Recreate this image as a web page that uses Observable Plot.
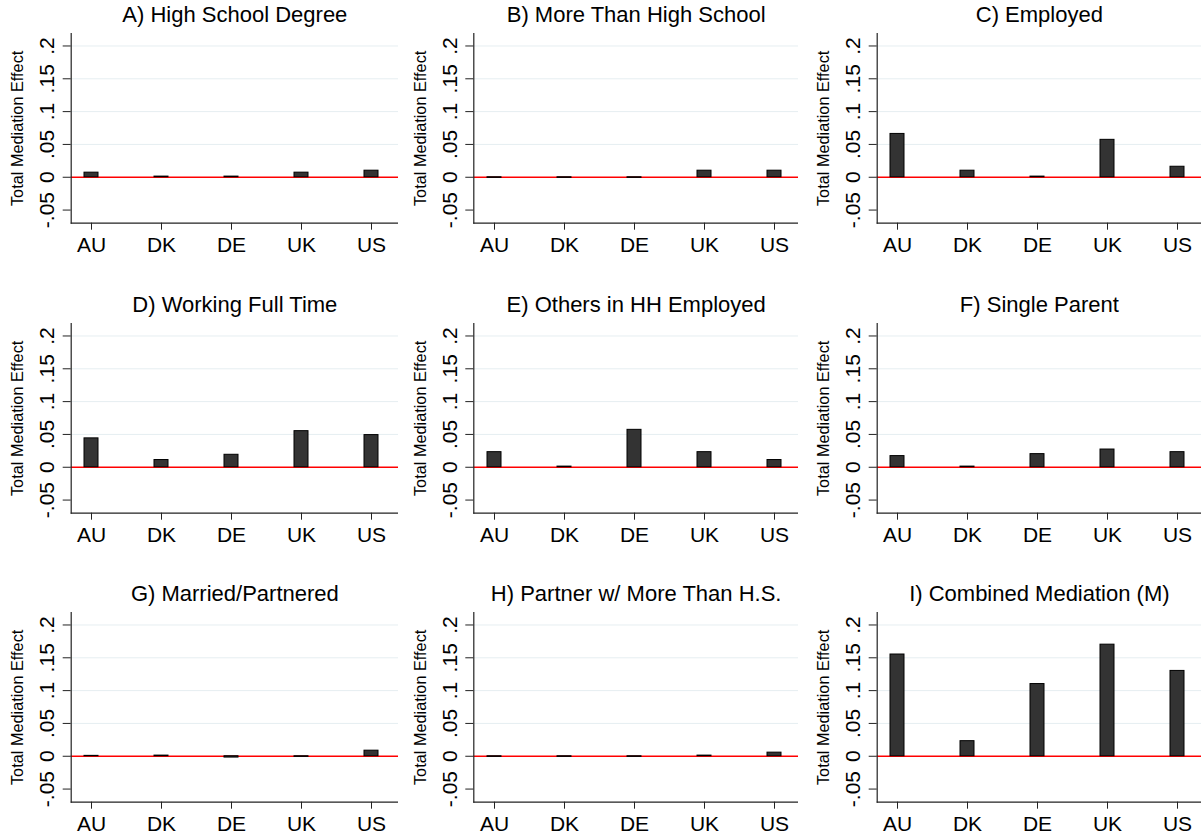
<!DOCTYPE html>
<html><head><meta charset="utf-8">
<script src="https://cdn.jsdelivr.net/npm/d3@7"></script>
<script src="https://cdn.jsdelivr.net/npm/@observablehq/plot@0.6"></script>
<style>
html,body{margin:0;padding:0;background:#fff;}
#grid{position:relative;width:1203px;height:837px;overflow:hidden;font-family:"Liberation Sans",Arial,sans-serif;}
.panel{position:absolute;}
</style></head><body><div id="grid"></div>
<script>
const countries = ["AU","DK","DE","UK","US"];
const panelTitles = ["A) High School Degree","B) More Than High School","C) Employed","D) Working Full Time","E) Others in HH Employed","F) Single Parent","G) Married/Partnered","H) Partner w/ More Than H.S.","I) Combined Mediation (M)"];
const highSchool     = [0.007, 0.001, 0.001, 0.007, 0.010];
const moreThanHS     = [-0.001, -0.001, -0.001, 0.010, 0.010];
const employed       = [0.066, 0.010, 0.001, 0.057, 0.016];
const fullTime       = [0.044, 0.011, 0.019, 0.055, 0.049];
const othersEmployed = [0.023, 0.001, 0.057, 0.023, 0.011];
const singleParent   = [0.017, 0.001, 0.020, 0.027, 0.023];
const married        = [0.0006, 0.001, -0.002, -0.001, 0.0085];
const partnerMoreHS  = [-0.001, -0.001, -0.001, 0.001, 0.0055];
const combined       = [0.155, 0.023, 0.110, 0.170, 0.130];
const yTicks = [-0.05, 0, 0.05, 0.1, 0.15, 0.2];
const yTickLabels = ["-.05","0",".05",".1",".15",".2"];
const gridTicks = [0.05, 0.1, 0.15, 0.2];
const yLabel = "Total Mediation Effect";

const series = [highSchool, moreThanHS, employed, fullTime, othersEmployed, singleParent, married, partnerMoreHS, combined];
const FONT = '"Liberation Sans", Arial, sans-serif';
const colLeft = [0, 400, 800], colWidth = [400, 400, 403], colML = [70.7, 73.3, 76.7];
const rowTop = [0, 289.5, 579];
const grid = document.getElementById("grid");

series.forEach((vals, i) => {
  const r = Math.floor(i / 3), c = i % 3;
  const ml = colML[c], mr = 2, W = colWidth[c];
  const a = ml + 13.2;
  const data = countries.map((k, j) => ({country: k, value: vals[j]}));
  const chart = Plot.plot({
    width: W, height: 256,
    marginTop: 33, marginBottom: 33.3, marginLeft: ml, marginRight: mr,
    style: {fontFamily: FONT, background: "transparent", overflow: "visible", color: "#000"},
    x: {type: "band", domain: countries, range: [a, a + 297.4], paddingInner: 0.8, paddingOuter: 0, align: 0},
    y: {domain: [-0.07, 0.219]},
    marks: [
      Plot.ruleY(gridTicks, {stroke: "#e6eef1", strokeWidth: 1}),
      Plot.ruleY([0], {stroke: "#ff0000", strokeWidth: 1.6}),
      Plot.barY(data, {x: "country", y: "value", fill: "#333333", stroke: "#000", strokeWidth: 1}),
      Plot.ruleY([-0.07], {stroke: "#222", strokeWidth: 1.2}),
      Plot.frame({anchor: "left", stroke: "#222", strokeWidth: 1.2}),
      Plot.axisY({ticks: yTicks, tickSize: 8, tickFormat: () => "", label: null, stroke: "#222"}),
      Plot.text(yTicks, {y: d => d, text: (d, k) => yTickLabels[k], frameAnchor: "left", dx: -23.5, rotate: -90, textAnchor: "middle", lineAnchor: "middle", fontSize: 21, fill: "#000"}),
      Plot.text([yLabel], {frameAnchor: "left", dx: -53, rotate: -90, textAnchor: "middle", lineAnchor: "middle", fontSize: 16.3, fill: "#000"}),
      Plot.axisX({tickSize: 7, tickPadding: 7.2, fontSize: 21, label: null, stroke: "#222", fill: "#000"}),
      Plot.text([panelTitles[i]], {frameAnchor: "top", dy: -11.3, lineAnchor: "bottom", fontSize: 22, fill: "#000"})
    ]
  });
  const div = document.createElement("div");
  div.className = "panel";
  div.style.left = colLeft[c] + "px";
  div.style.top = rowTop[r] + "px";
  div.appendChild(chart);
  grid.appendChild(div);
});
</script></body></html>
